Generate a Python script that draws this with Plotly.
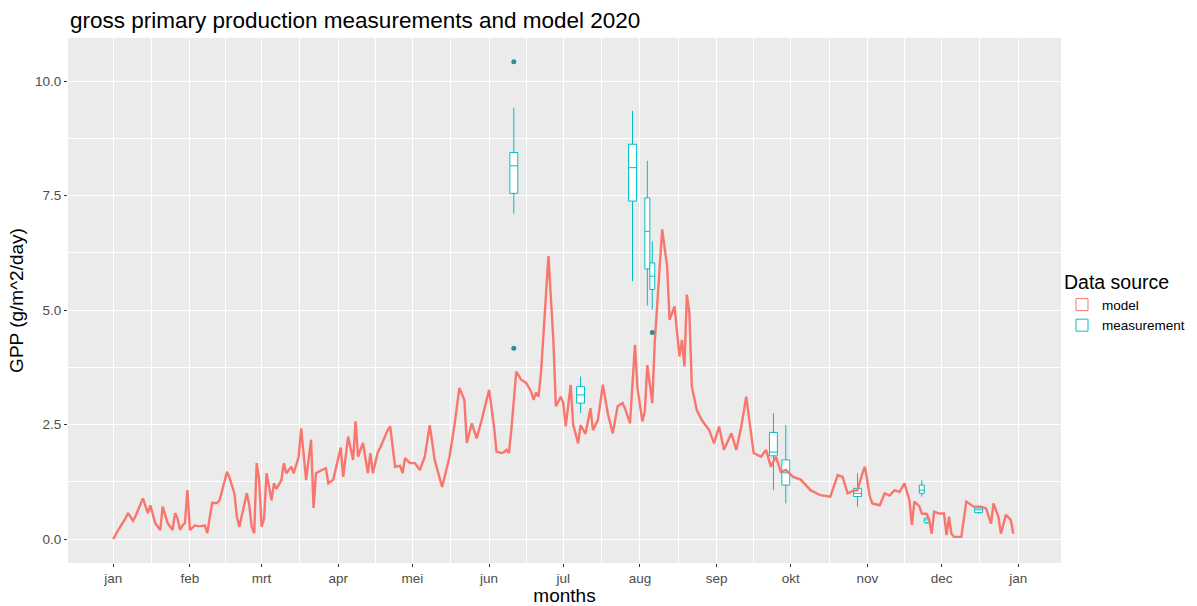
import pandas as pd
import plotly.graph_objects as go

BASE = pd.Timestamp("2020-01-01")

# Modelled daily GPP (day of year offset from 1 Jan 2020, g/m^2/day)
model_day = [0, 2, 5, 6, 8, 9, 12, 14, 15, 17, 19, 20, 22, 24, 25, 26, 27, 28, 29, 30,
             31, 33, 35, 37, 38, 40, 42, 43, 46, 47, 49, 50, 51, 54, 55, 56, 57, 58, 59, 60,
             61, 62, 64, 65, 66, 68, 69, 70, 72, 73, 75, 76, 78, 79, 80, 81, 82, 84, 86, 87,
             89, 92, 93, 95, 97, 98, 99, 101, 103, 104, 105, 107, 108, 111, 112, 114, 116, 117, 118, 120,
             122, 124, 126, 128, 130, 133, 136, 138, 140, 142, 143, 145, 147, 149, 152, 154, 155, 157, 158, 159,
             160, 161, 163, 165, 167, 169, 170, 171, 172, 173, 176, 178, 179, 181, 182, 183, 185, 186, 188, 189,
             191, 193, 194, 196, 198, 200, 202, 204, 206, 207, 209, 211, 212, 214, 215, 216, 217, 218, 219, 221,
             222, 224, 225, 227, 229, 230, 231, 232, 233, 234, 236, 238, 241, 243, 245, 247, 250, 252, 254, 256,
             259, 262, 264, 266, 268, 270, 272, 275, 278, 282, 286, 290, 293, 295, 297, 299, 301, 303, 304, 306,
             307, 310, 312, 314, 316, 318, 320, 322, 323, 324, 326, 327, 329, 330, 331, 332, 334, 336, 337, 338,
             339, 340, 343, 345, 348, 351, 353, 355, 356, 358, 359, 361, 363, 364]
model_gpp = [0.0, 0.2, 0.46, 0.57, 0.4, 0.5, 0.89, 0.57, 0.74, 0.35, 0.2, 0.71, 0.35, 0.2, 0.57, 0.45, 0.2, 0.3, 0.35, 1.07,
             0.2, 0.3, 0.28, 0.3, 0.13, 0.79, 0.79, 0.85, 1.47, 1.35, 1.0, 0.49, 0.27, 1.0, 0.75, 0.27, 0.13, 1.66, 1.3, 0.27,
             0.45, 1.44, 0.85, 1.22, 1.1, 1.29, 1.66, 1.44, 1.58, 1.44, 1.8, 2.42, 1.29, 1.8, 2.17, 0.68, 1.44, 1.5, 1.55, 1.22,
             1.3, 2.0, 1.36, 2.24, 1.73, 2.57, 1.8, 2.1, 1.44, 1.88, 1.44, 1.9, 2.0, 2.38, 2.46, 1.58, 1.6, 1.44, 1.77, 1.66,
             1.66, 1.51, 1.8, 2.49, 1.73, 1.14, 1.8, 2.49, 3.3, 3.04, 2.1, 2.53, 2.2, 2.6, 3.26, 2.46, 1.91, 1.88, 1.9, 1.95,
             1.88, 2.38, 3.66, 3.48, 3.41, 3.22, 3.04, 3.2, 3.11, 3.63, 6.18, 4.35, 2.9, 3.11, 2.97, 2.46, 3.37, 2.5, 2.09, 2.49,
             2.3, 2.86, 2.38, 2.6, 3.37, 2.75, 2.31, 2.9, 2.97, 2.85, 2.53, 4.24, 3.3, 2.57, 2.8, 3.8, 3.4, 2.97, 4.3, 6.1,
             6.76, 5.96, 4.79, 5.08, 3.99, 4.35, 3.77, 5.34, 4.94, 3.33, 2.82, 2.6, 2.38, 2.09, 2.46, 1.95, 2.31, 1.95, 2.46, 3.11,
             1.88, 1.8, 1.95, 1.58, 1.8, 1.47, 1.51, 1.36, 1.3, 1.07, 0.96, 0.93, 1.4, 1.36, 1.0, 1.05, 1.07, 1.44, 1.58, 0.93,
             0.78, 0.74, 1.0, 0.95, 1.07, 1.03, 1.22, 0.85, 0.31, 0.82, 0.72, 0.56, 0.55, 0.42, 0.12, 0.6, 0.56, 0.56, 0.09, 0.49,
             0.12, 0.05, 0.05, 0.82, 0.71, 0.71, 0.67, 0.34, 0.78, 0.49, 0.12, 0.53, 0.42, 0.12]

# Field measurement campaigns summarised as box statistics
meas_wide_day = [162, 189, 210, 267, 272, 301, 350]
meas_wide_low = [7.11, 2.75, 5.63, 1.07, 0.78, 0.71, 0.55]
meas_wide_q1 = [7.55, 2.97, 7.38, 1.82, 1.18, 0.93, 0.58]
meas_wide_med = [8.15, 3.15, 8.11, 1.90, 1.45, 1.00, 0.64]
meas_wide_q3 = [8.44, 3.33, 8.62, 2.33, 1.73, 1.11, 0.68]
meas_wide_high = [9.42, 3.55, 9.35, 2.75, 2.49, 1.44, 0.71]

meas_narrow_day = [216, 218, 327, 329]
meas_narrow_low = [5.10, 5.01, 0.93, 0.33]
meas_narrow_q1 = [5.90, 5.45, 1.00, 0.36]
meas_narrow_med = [6.72, 5.74, 1.07, 0.42]
meas_narrow_q3 = [7.45, 6.03, 1.18, 0.46]
meas_narrow_high = [8.26, 6.50, 1.29, 0.48]

outlier_day = [162, 162, 218]
outlier_gpp = [10.42, 4.17, 4.51]

month_labels = ["jan", "feb", "mrt", "apr", "mei", "jun", "jul", "aug", "sep", "okt", "nov", "dec", "jan"]

RED = "#F8766D"
CYAN = "#00BFC4"
FONT = "Liberation Sans, Arial, sans-serif"


def to_dates(days):
    return BASE + pd.to_timedelta(days, unit="D")


month_ticks = pd.date_range("2020-01-01", "2021-01-01", freq="MS")
month_mid = [a + (b - a) / 2 for a, b in zip(month_ticks[:-1], month_ticks[1:])]

fig = go.Figure()

fig.add_trace(go.Scatter(
    x=to_dates(model_day), y=model_gpp, mode="lines", name="model",
    line=dict(color=RED, width=2.4), showlegend=False,
))

# legend key for the model series, drawn as a box glyph like the measurements
fig.add_trace(go.Box(
    x=[None], y=[None], name="model", line=dict(color=RED, width=1),
    fillcolor="white", legendrank=1, showlegend=True, boxpoints=False,
))

box_common = dict(line=dict(color=CYAN, width=1), fillcolor="white",
                  whiskerwidth=0, boxpoints=False, legendgroup="meas")
day_ms = 86400000

fig.add_trace(go.Box(
    x=to_dates(meas_wide_day), lowerfence=meas_wide_low, q1=meas_wide_q1,
    median=meas_wide_med, q3=meas_wide_q3, upperfence=meas_wide_high,
    width=3.2 * day_ms, name="measurement", legendrank=2, **box_common,
))
fig.add_trace(go.Box(
    x=to_dates(meas_narrow_day), lowerfence=meas_narrow_low, q1=meas_narrow_q1,
    median=meas_narrow_med, q3=meas_narrow_q3, upperfence=meas_narrow_high,
    width=2.0 * day_ms, name="measurement", showlegend=False, **box_common,
))
fig.add_trace(go.Scatter(
    x=to_dates(outlier_day), y=outlier_gpp, mode="markers", showlegend=False,
    marker=dict(color="#2E8F92", size=5), legendgroup="meas",
))

axis_common = dict(
    showline=False, zeroline=False, ticks="outside", ticklen=3, tickcolor="#333333",
    tickfont=dict(family=FONT, size=13.5, color="#4D4D4D"),
    gridcolor="white", gridwidth=1.1, automargin=False,
)

fig.update_layout(
    width=1197, height=606,
    margin=dict(l=68, r=136, t=38, b=43, autoexpand=False),
    paper_bgcolor="white", plot_bgcolor="#EBEBEB",
    font=dict(family=FONT, color="black"),
    title=dict(text="gross primary production measurements and model 2020",
               font=dict(family=FONT, size=22.5, color="black"),
               x=70 / 1197, xanchor="left", xref="container",
               y=1 - 20 / 606, yanchor="middle", yref="container"),
    boxmode="overlay",
    legend=dict(
        title=dict(text="Data source", font=dict(family=FONT, size=19.5, color="black")),
        font=dict(family=FONT, size=13.5, color="black"),
        xref="container", yref="container",
        x=1062 / 1197, xanchor="left", y=1 - 264 / 606, yanchor="top",
        bgcolor="rgba(0,0,0,0)", tracegroupgap=0, itemwidth=30,
    ),
    xaxis=dict(
        range=[BASE - pd.Timedelta(days=18.3), BASE + pd.Timedelta(days=383.3)],
        tickmode="array", tickvals=list(month_ticks), ticktext=month_labels,
        title=dict(text="months", font=dict(family=FONT, size=19, color="black"), standoff=2),
        minor=dict(tickmode="array", tickvals=month_mid, showgrid=True,
                   gridcolor="white", gridwidth=0.5, ticks=""),
        **axis_common,
    ),
    yaxis=dict(
        range=[-0.52, 10.94],
        tickmode="array", tickvals=[0, 2.5, 5, 7.5, 10],
        ticktext=["0.0", "2.5", "5.0", "7.5", "10.0"],
        title=dict(text="GPP (g/m^2/day)", font=dict(family=FONT, size=19, color="black"), standoff=6),
        minor=dict(tickmode="array", tickvals=[1.25, 3.75, 6.25, 8.75], showgrid=True,
                   gridcolor="white", gridwidth=0.5, ticks=""),
        **axis_common,
    ),
)

fig.write_html("out.html")
